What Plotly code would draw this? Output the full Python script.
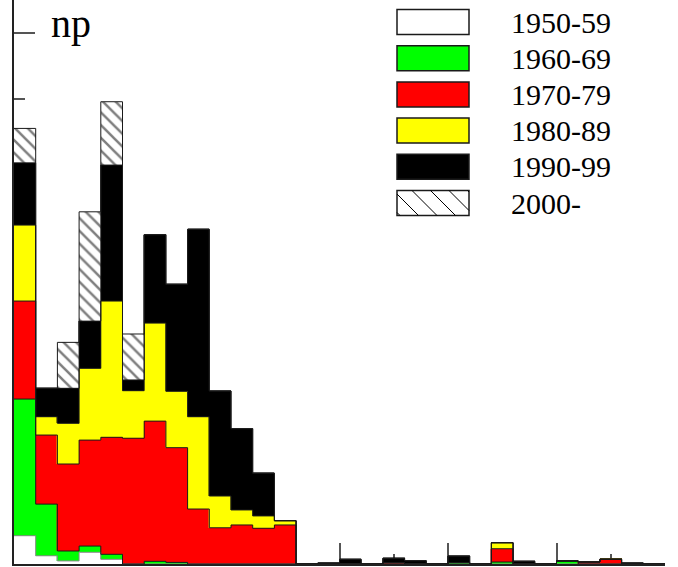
import plotly.graph_objects as go

# Stacked histogram of np, split by decade (30 bins)
bin_index = list(range(30))
decades = ["1950-59", "1960-69", "1970-79", "1980-89", "1990-99", "2000-"]

n_1950 = [2.13, 0.62, 0.23, 0.88, 0.35, 0, 0, 0, 0, 0,
          0, 0, 0, 0, 0, 0, 0, 0, 0, 0,
          0, 0, 0, 0, 0, 0, 0, 0, 0, 0]
n_1960 = [10.29, 3.89, 0.75, 0.47, 0.38, 0, 0.20, 0.12, 0, 0,
          0, 0, 0, 0, 0, 0, 0, 0, 0, 0,
          0.10, 0, 0.15, 0, 0, 0.23, 0, 0, 0, 0]
n_1970 = [7.38, 5.20, 6.55, 7.98, 8.81, 9.47, 10.56, 8.64, 4.14, 2.73,
          2.94, 2.69, 2.94, 0, 0, 0, 0, 0.10, 0, 0,
          0, 0, 1.00, 0, 0, 0, 0.15, 0.35, 0, 0]
n_1980 = [5.72, 1.38, 3.06, 5.40, 10.26, 3.58, 7.38, 4.24, 6.95, 2.39,
          1.13, 0.93, 0.32, 0, 0, 0, 0, 0, 0, 0,
          0, 0, 0.45, 0, 0, 0, 0, 0, 0, 0]
n_1990 = [4.69, 2.14, 2.64, 3.56, 10.24, 0.81, 6.66, 8.06, 14.11, 7.91,
          6.12, 3.22, 0, 0, 0.08, 0.35, 0, 0.33, 0.25, 0,
          0.50, 0, 0, 0.20, 0, 0, 0, 0, 0.08, 0]
n_2000 = [2.59, 0, 3.46, 8.23, 4.77, 3.46, 0, 0, 0, 0,
          0, 0, 0, 0, 0, 0, 0, 0, 0, 0,
          0, 0, 0, 0, 0, 0, 0, 0, 0, 0]

series = [n_1950, n_1960, n_1970, n_1980, n_1990, n_2000]
fills = ["#ffffff", "#00ff00", "#ff0000", "#ffff00", "#000000", "#ffffff"]
edges = ["#8a8a8a", "#1a1a1a", "#1a1a1a", "#1a1a1a", "#1a1a1a", "#1a1a1a"]

W, H = 678, 567
L, R, T, B = 14, 13, 0, 3
PW, PH = W - L - R, H - T - B

fig = go.Figure()

# filled stacked bars (no per-bar outline)
for name, vals, fc in zip(decades, series, fills):
    marker = dict(color=fc, line=dict(color=fc, width=0.4))
    if name == "2000-":
        marker["pattern"] = dict(shape="\\", size=9, solidity=0.28,
                                 fgcolor="#000000", bgcolor="#ffffff",
                                 fillmode="overlay")
        marker["line"] = dict(color="#ffffff", width=0)
    fig.add_trace(go.Bar(x=[i + 0.5 for i in bin_index], y=vals, name=name,
                         width=1, marker=marker, showlegend=False,
                         hoverinfo="skip"))

# step contour on top of each cumulative level
bin_edges = bin_index + [30]
running = [0.0] * len(bin_index)
for name, vals, ec in zip(decades, series, edges):
    running = [a + b for a, b in zip(running, vals)]
    fig.add_trace(go.Scatter(x=bin_edges, y=running + [running[-1]],
                             mode="lines", line=dict(color=ec, width=1,
                                                     shape="hv"),
                             showlegend=False, hoverinfo="skip"))


def px_x(p):
    return (p - L) / PW


def px_y(p):
    return (H - B - p) / PH


# Legend drawn as boxes + labels
shapes = []
annotations = []
box_x0, box_x1 = 397, 469
row_top0, row_step, box_h = 9.5, 36.2, 25
for k, (name, fc, ec) in enumerate(zip(decades, fills, edges)):
    y0 = row_top0 + k * row_step
    y1 = y0 + box_h
    shapes.append(dict(type="rect", xref="paper", yref="paper",
                       x0=px_x(box_x0), x1=px_x(box_x1),
                       y0=px_y(y1), y1=px_y(y0),
                       fillcolor=fc, line=dict(color="#1a1a1a", width=1.5)))
    if name == "2000-":
        step = 18.5
        start = box_x0 + 3
        xs = start - box_h
        while xs < box_x1:
            # diagonal from (xs, y0) to (xs + box_h, y1), clipped to the box
            ax, ay, bx, by = xs, y0, xs + box_h, y1
            if ax < box_x0:
                ay += box_x0 - ax
                ax = box_x0
            if bx > box_x1:
                by -= bx - box_x1
                bx = box_x1
            if bx > ax:
                shapes.append(dict(type="line", xref="paper", yref="paper",
                                   x0=px_x(ax), y0=px_y(ay),
                                   x1=px_x(bx), y1=px_y(by),
                                   line=dict(color="#000000", width=1)))
            xs += step
    annotations.append(dict(text=name, xref="paper", yref="paper",
                            x=px_x(509), y=px_y((y0 + y1) / 2),
                            xanchor="left", yanchor="middle", showarrow=False,
                            font=dict(family="Liberation Serif", size=30,
                                      color="#000000")))

annotations.append(dict(text="np", xref="paper", yref="paper",
                        x=px_x(50), y=1.0, xanchor="left", yanchor="top",
                        showarrow=False, borderpad=0,
                        font=dict(family="Liberation Serif", size=40,
                                  color="#000000")))

fig.update_layout(
    width=W, height=H,
    margin=dict(l=L, r=R, t=T, b=B, pad=0),
    barmode="stack", bargap=0,
    plot_bgcolor="#ffffff", paper_bgcolor="#ffffff",
    shapes=shapes, annotations=annotations,
    xaxis=dict(range=[0, 30], showgrid=False, zeroline=False,
               showline=True, linecolor="#222222", linewidth=1.5,
               ticks="inside", ticklen=21, tickwidth=1.5, tickcolor="#555555",
               tick0=0, dtick=5, showticklabels=False, layer="below traces",
               minor=dict(ticks="inside", ticklen=10, tickwidth=1.5,
                          tickcolor="#555555", dtick=2.5, tick0=0,
                          showgrid=False)),
    yaxis=dict(range=[0, PH / 13.28], showgrid=False, zeroline=False,
               showline=True, linecolor="#222222", linewidth=1.5,
               ticks="inside", ticklen=21, tickwidth=1.5, tickcolor="#555555",
               tick0=0, dtick=10, showticklabels=False, layer="below traces",
               minor=dict(ticks="inside", ticklen=11, tickwidth=1.5,
                          tickcolor="#555555", dtick=5, tick0=0,
                          showgrid=False)),
)

fig.write_html("out.html")
